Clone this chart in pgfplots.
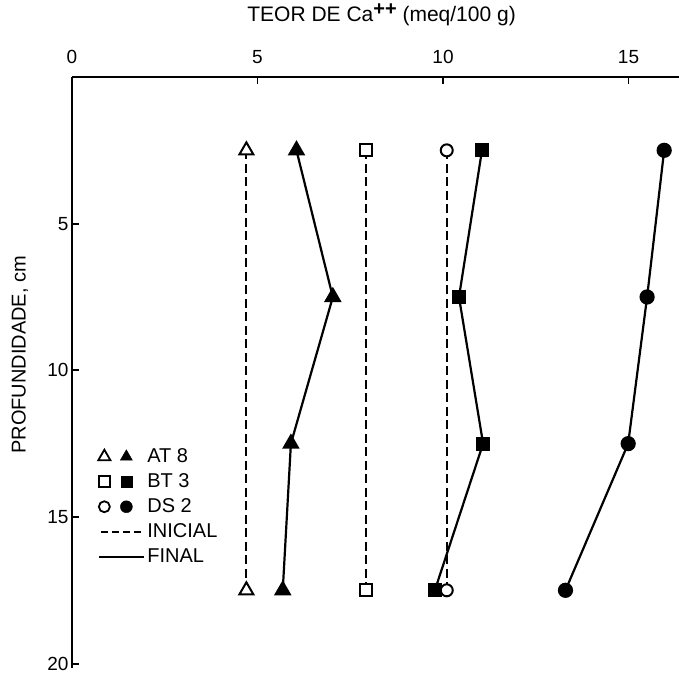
\documentclass[border=0pt]{standalone}
\usepackage{fontspec}
\setmainfont{Liberation Sans}
\usepackage{pgfplots}
\pgfplotsset{compat=1.18}
\begin{document}
\begin{tikzpicture}[x=1pt,y=1pt]
\begin{axis}[
 at={(0,0)}, anchor=north west,
 width=607pt, height=591pt, scale only axis,
 xmin=0, xmax=16.36, ymin=0, ymax=20.15,
 y dir=reverse,
 axis x line*=top, axis y line*=left,
 axis line style={line width=2.5pt, -},
 xtick={0,5,10,15}, ytick={5,10,15,20},
 tick align=inside, major tick length=7pt,
 tick style={line width=1.8pt, black},
 /pgf/number format/assume math mode=true,
 ticklabel style={font=\fontsize{19}{19}\selectfont},
 xticklabel style={yshift=10pt},
 clip=false,
 legend style={draw=none, fill=none, inner sep=0pt, row sep=4pt,
   at={(axis description cs:0.043,0.3756)}, anchor=north west,
   nodes={inner sep=2pt, anchor=west, text height=14pt, text depth=3pt, font=\fontsize{20}{20}\selectfont}},
 legend cell align=left,
]
% AT 8
\addplot[forget plot, line width=2.2pt, dash pattern=on 9pt off 4.5pt, mark=triangle*, mark size=8pt,
  mark options={solid, fill=white, line width=2pt}] coordinates {(4.7,2.5) (4.7,17.5)};
\addplot[forget plot, line width=2.2pt, mark=triangle*, mark size=8pt, mark options={fill=black}]
  coordinates {(6.05,2.5) (7.03,7.5) (5.9,12.5) (5.68,17.5)};
% BT 3
\addplot[forget plot, line width=2.2pt, dash pattern=on 9pt off 4.5pt, mark=square*, mark size=6pt,
  mark options={solid, fill=white, line width=2pt}] coordinates {(7.92,2.5) (7.92,17.5)};
\addplot[forget plot, line width=2.2pt, mark=square*, mark size=6pt, mark options={fill=black}]
  coordinates {(11.05,2.5) (10.43,7.5) (11.08,12.5) (9.78,17.5)};
% DS 2
\addplot[forget plot, line width=2.2pt, dash pattern=on 9pt off 4.5pt, mark=*, mark size=6pt,
  mark options={solid, fill=white, line width=2pt}] coordinates {(10.1,2.5) (10.1,17.5)};
\addplot[forget plot, line width=2.2pt, mark=*, mark size=6.5pt, mark options={fill=black}]
  coordinates {(15.96,2.5) (15.5,7.5) (14.99,12.5) (13.3,17.5)};
% legend
\addlegendimage{legend image code/.code={
  \path[draw=none, fill=none] (0pt,-8pt) rectangle (45pt,8pt);
  \draw[line width=1.8pt, fill=white] plot[mark=triangle*, mark size=7pt] coordinates {(5pt,0pt)};
  \draw[fill=black] plot[mark=triangle*, mark size=7pt] coordinates {(27pt,0pt)};}}
\addlegendentry{AT 8}
\addlegendimage{legend image code/.code={
  \path[draw=none, fill=none] (0pt,-8pt) rectangle (45pt,8pt);
  \draw[line width=1.8pt, fill=white] plot[mark=square*, mark size=5.5pt] coordinates {(5pt,0pt)};
  \draw[fill=black] plot[mark=square*, mark size=5.5pt] coordinates {(27pt,0pt)};}}
\addlegendentry{BT 3}
\addlegendimage{legend image code/.code={
  \path[draw=none, fill=none] (0pt,-8pt) rectangle (45pt,8pt);
  \draw[line width=1.8pt, fill=white] plot[mark=*, mark size=5.5pt] coordinates {(5pt,0pt)};
  \draw[fill=black] plot[mark=*, mark size=6pt] coordinates {(27pt,0pt)};}}
\addlegendentry{DS 2}
\addlegendimage{legend image code/.code={
  \path[draw=none, fill=none] (0pt,-8pt) rectangle (45pt,8pt);
  \draw[line width=2pt, dash pattern=on 7pt off 4pt] (2pt,0pt) -- (45pt,0pt);}}
\addlegendentry{INICIAL}
\addlegendimage{legend image code/.code={
  \path[draw=none, fill=none] (0pt,-8pt) rectangle (45pt,8pt);
  \draw[line width=2pt] (0pt,0pt) -- (45pt,0pt);}}
\addlegendentry{FINAL}
\node[font=\fontsize{21}{21}\selectfont] at (axis description cs:0.51,1) [yshift=62pt]
  {TEOR DE Ca\raisebox{0.5ex}{\fontsize{20}{20}\selectfont\bfseries ++} (meq/100 g)};
\node[xshift=-52pt, rotate=90, font=\fontsize{20}{20}\selectfont] at (axis description cs:0,0.53)
  {PROFUNDIDADE, cm};
\end{axis}
\pgfresetboundingbox
\path (-72,77) rectangle (607,-598);
\end{tikzpicture}
\end{document}
